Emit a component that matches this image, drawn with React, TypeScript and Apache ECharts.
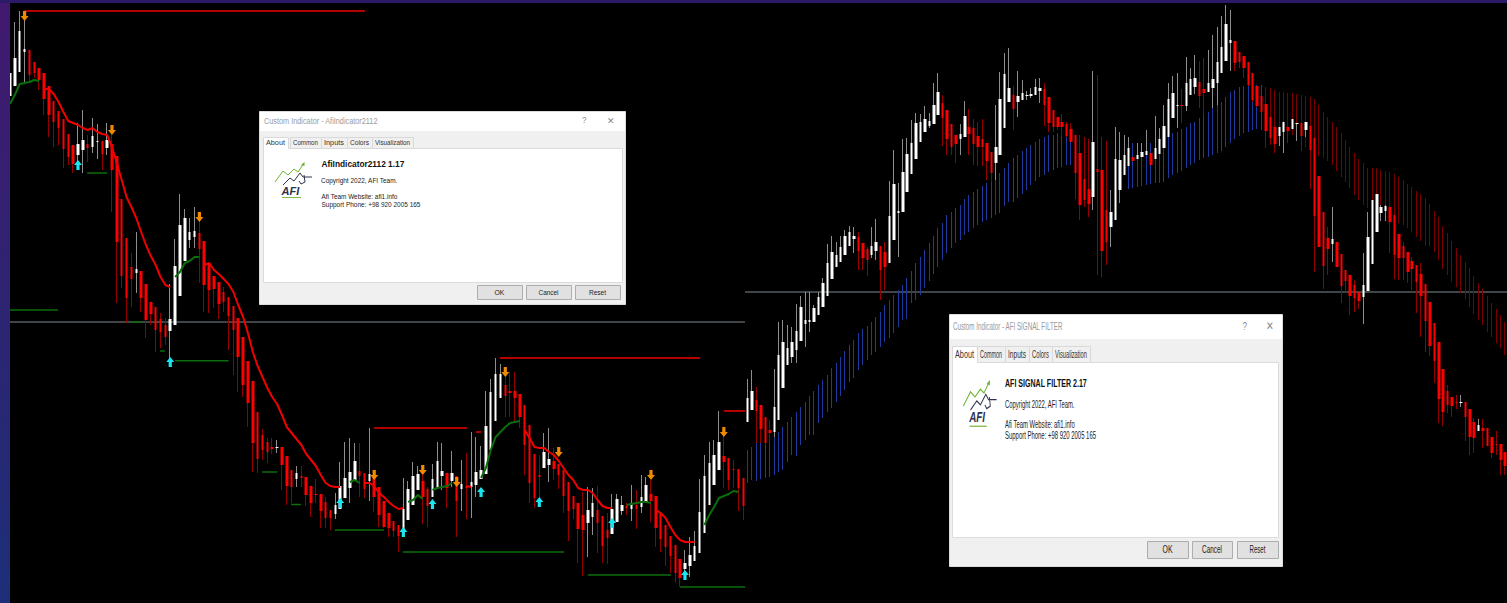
import React, { useEffect, useRef } from "react";
import * as echarts from "echarts";

// Each candle: [open, close, wick end, wick end] on an inverted price scale.
const leftCandles = [
  [96,73,73,96],[86,58,22,86],[72,31,11,72],[52,49,13,83],[50,75,50,82],[62,73,62,78],[68,80,68,90],[73,99,73,115],
  [86,115,86,137],[101,122,101,147],[111,128,111,145],[119,149,119,168],[134,157,134,165],[145,164,145,173],[155,144,123,163],[150,140,110,173],
  [144,148,135,162],[147,136,118,153],[142,141,124,159],[141,154,141,170],[148,140,123,155],[144,170,135,212],[156,242,156,303],[199,276,199,288],
  [238,298,238,323],[267,279,253,307],[273,269,232,293],[271,298,271,312],[284,320,284,338],[302,314,302,325],[307,330,307,352],[319,332,313,348],
  [325,337,318,345],[331,319,284,360],[325,266,239,325],[296,225,194,296],[261,218,209,261],[240,232,218,248],[237,231,207,248],[233,249,218,283],
  [241,285,241,312],[263,290,263,313],[276,289,276,308],[282,304,282,319],[292,302,287,312],[297,316,297,350],[306,330,306,375],[318,357,318,392],
  [337,385,337,397],[361,403,361,427],[381,443,381,472],[412,459,412,473],[435,450,429,460],[442,452,438,463],[447,449,438,454],[448,447,440,453],
  [447,465,447,490],[456,486,456,505],[470,487,470,503],[479,473,466,487],[476,478,466,487],[477,495,477,506],[486,503,486,517],[494,495,479,503],
  [494,511,494,528],[502,518,497,528],[510,518,510,530],[514,505,493,519],[509,486,462,509],[498,478,442,498],[488,472,438,503],[480,461,443,480],
  [471,476,443,497],[473,489,473,498],[481,474,428,501],[477,497,477,512],[487,515,487,527],[501,527,501,528],[513,528,513,537],[521,531,521,537],
  [525,536,525,552],[531,509,478,531],[520,489,481,520],[505,476,462,505],[490,474,466,490],[481,497,466,524],[489,506,487,527],[497,479,464,497],
  [488,461,442,488],[476,471,443,490],[473,488,473,508],[481,473,451,487],[476,501,476,537],[489,484,460,511],[486,488,453,519],[487,482,432,518],
  [485,472,437,497],[479,470,446,479],[474,426,391,474],[450,392,379,450],[421,374,358,421],[398,374,364,398],[385,396,375,417],[391,393,372,417],
  [391,398,372,422],[394,417,394,428],[405,445,405,475],[425,483,425,503],[454,498,454,508],[475,477,455,498],[468,452,433,468],[465,459,428,482],
  [461,469,448,480],[464,475,464,489],[470,496,470,513],[482,511,482,541],[496,509,496,519],[503,529,503,563],[515,530,492,576],[523,510,487,557],
  [517,503,488,535],[510,523,486,553],[516,546,516,563],[530,538,513,564],[534,509,494,534],[522,499,494,522],[511,505,496,515],[506,508,503,515],
  [509,503,485,521],[505,509,490,529],[507,497,475,513],[502,485,477,502],[494,501,480,522],[496,528,496,547],[512,539,512,552],[525,547,525,566],
  [536,556,536,573],[545,573,545,583],[559,578,559,587],[569,563,550,578],[566,555,537,577],[561,546,531,561],[553,512,479,553],[533,476,455,533],
  [505,463,442,505],[485,455,440,485],[470,442,411,470],[456,462,428,488],[458,480,458,490],[469,470,460,488],[469,488,469,511],[478,506,478,520],
];
const rightCandles = [
  [422,398,379,422],[410,391,370,410],[400,411,387,443],[405,429,405,443],[417,443,417,445],[430,433,420,443],[432,407,369,437],[420,355,322,420],
  [388,342,320,388],[365,348,325,365],[357,342,327,363],[350,331,304,363],[341,307,296,341],[324,320,292,347],[322,320,292,332],[322,308,305,322],
  [315,297,292,315],[307,283,278,307],[296,263,244,296],[279,252,236,279],[267,255,242,267],[262,247,236,262],[255,236,230,255],[246,232,226,246],
  [239,236,227,253],[237,251,232,270],[243,258,243,270],[249,260,247,276],[255,246,227,258],[251,242,219,260],[246,270,246,300],[252,267,242,290],
  [263,216,181,263],[240,184,150,240],[213,211,183,257],[212,172,139,212],[192,154,138,192],[174,143,120,174],[159,123,113,159],[142,122,114,142],
  [132,119,106,132],[126,121,113,128],[124,105,83,124],[115,92,73,115],[103,118,95,146],[110,139,110,155],[124,147,124,155],[135,144,135,163],
  [139,134,124,155],[137,116,101,137],[127,134,109,155],[128,144,119,165],[136,147,122,166],[139,147,119,166],[143,161,143,180],[152,173,152,182],
  [163,147,105,180],[155,99,72,155],[128,74,53,128],[102,88,48,102],[95,109,86,130],[102,96,71,117],[100,93,80,100],[96,95,91,100],
  [96,94,88,98],[95,87,79,95],[91,88,78,103],[89,105,83,126],[97,123,97,132],[110,127,110,132],[117,127,117,130],[122,127,114,137],
  [124,136,122,137],[129,142,123,142],[135,173,135,199],[153,205,135,220],[179,200,137,207],[189,204,139,217],[197,142,71,210],[169,172,75,275],
  [170,251,137,277],[210,242,141,265],[227,212,190,247],[220,159,127,220],[190,160,132,203],[175,155,135,175],[166,148,137,166],[157,161,157,161],
  [159,155,143,159],[157,152,143,157],[155,151,130,155],[153,165,153,165],[159,148,116,159],[154,139,128,154],[148,126,105,148],[137,99,83,137],
  [118,93,76,118],[106,105,73,128],[105,106,89,123],[106,83,57,111],[95,79,68,95],[87,78,55,94],[82,96,61,108],[89,93,58,115],
  [92,83,50,92],[88,79,35,108],[83,62,27,105],[73,47,16,73],[61,24,5,61],[43,40,10,71],[41,63,41,71],[52,62,52,68],
  [56,68,56,78],[62,85,62,86],[73,100,73,102],[86,106,86,107],[96,112,96,112],[104,131,104,148],[117,138,117,145],[127,144,127,153],
  [136,127,127,146],[132,122,122,153],[127,131,127,143],[129,119,119,129],[124,123,123,141],[123,136,123,151],[130,122,122,137],[126,150,126,189],
  [138,216,138,272],[176,247,176,247],[212,266,212,289],[238,249,227,275],[244,239,207,262],[242,267,242,267],[254,286,254,303],[270,281,270,292],
  [275,296,275,315],[285,298,280,312],[292,301,292,309],[297,285,253,324],[291,237,212,291],[264,200,200,264],[232,194,194,232],[213,207,205,221],
  [211,206,205,221],[207,222,207,253],[215,255,215,279],[234,258,234,280],[246,258,242,280],[252,272,252,283],[261,269,257,290],[265,282,265,313],
  [274,296,263,337],[284,321,284,352],[302,346,302,356],[323,361,323,383],[342,399,342,423],[369,412,369,426],[391,405,385,413],[397,406,397,417],
  [402,403,395,409],[403,402,395,407],[402,417,402,441],[409,437,409,455],[422,438,418,453],[431,425,419,431],[428,431,419,448],[428,446,428,446],
  [437,453,437,458],[444,445,431,455],[444,460,444,475],[452,466,452,475],
];
const filterBlue = [
  [450,483],[447,480],[443,481],[440,479],[438,478],[437,477],[433,475],[432,472],[427,470],[422,462],[417,455],[412,456],[407,445],[402,440],[396,435],
  [391,435],[385,423],[380,418],[375,412],[368,408],[363,402],[357,396],[351,390],[345,382],[340,378],[333,370],[329,365],[326,360],[322,355],[317,352],
  [312,347],[305,342],[300,338],[295,333],[290,327],[285,320],[278,319],[271,303],[263,300],[257,295],[250,288],[243,281],[236,274],[228,267],[223,260],
  [215,253],[212,248],[208,243],[205,240],[199,235],[195,232],[192,228],[189,225],[186,222],[183,220],[180,218],[177,215],[173,213],[168,206],[163,202],
  [158,202],[155,198],[151,194],[148,190],[145,185],[142,181],[139,177],[137,175],[135,172],[135,170],[133,168],[133,167],[132,165],[132,165],
  null,null,null,null,null,null,null,null,null,null,null,
  [157,175],[142,189],[143,188],[143,187],[143,186],[143,185],[143,184],[143,183],[138,183],[137,182],[136,178],[133,175],[132,173],[129,171],[127,168],
  [123,165],[122,163],[118,160],[115,158],[112,157],[108,155],[105,153],[102,151],[97,147],[92,143],[90,139],[87,136],[86,133],[86,132],[85,130],[85,129],[85,130],
];
const filterRedStart = 117;
const filterRed = [
  [87,130],[88,130],[90,132],[92,133],[92,137],[93,135],[93,135],[94,140],[95,143],[96,147],[97,150],[99,153],[105,156],[112,158],[117,161],
  [122,165],[127,171],[133,177],[140,182],[147,188],[153,195],[159,200],[163,205],[168,208],[168,212],[168,215],[170,217],[171,216],[172,218],[174,220],
  [177,223],[180,225],[184,228],[187,232],[191,237],[194,241],[198,246],[204,246],[211,252],[217,260],[226,269],[233,275],[241,282],[248,287],[255,293],
  [262,299],[268,307],[276,314],[283,320],[289,325],[296,332],[303,337],[309,343],[315,348],[322,355],
];
// Trailing stop: [first candle, values]
const trailRed: [number, number[]][] = [
  [7,[89,89,94,102,112,121,123,125,128,130,128,132,134,135,147,163,180,197,207,218,232,245,256,265,277,285,287]],
  [40,[265,263,270,274,279,284,292,305,317,333,352,366,377,388,397,404,415,427,433,439,445,454,460,466,475,483,486,487,487]],
  [73,[483,483,486,493,497,502,506,509,508]],
  [94,[486,487]],
  [106,[430,438,447,448,448,452,455,461,468,475,480,488,490,490,493,500,506,508,508]],
  [133,[510,513,518,527,535,540,542,542,542]],
];
const trailGreen: [number, number[]][] = [
  [0,[104,95,84,83,82,80,81]],
  [34,[277,272,263,261,257,257]],
  [70,[482,480,483]],
  [82,[502,500,495,499]],
  [87,[490,488,487,486,483]],
  [97,[478,468,450,437,432,427,423,422,421]],
  [127,[505,504,503,502,502,503]],
  [143,[525,515,507,498,496,494,491,492]],
];
// Levels: [from candle, to candle, price]
const levelsRed = [[3,73.1,11],[100.9,142.1,358],[75,94.1,428],[96,97,432],[147,151.4,411]];
const levelsGreen = [[0,9.9,310],[15.9,20,173],[24.9,27,322],[30.9,31.9,351],[34,45,360.7],[51.9,55,472],[57.9,59.9,504.5],[66.9,77,530],[80.9,114.1,552],[119,136.1,575],[138,151.4,587]];
const priceLineLeft = 322;
const priceLineRight = 292;
const sellSignals = [[3,16],[21,130],[39,217],[75,475],[85,470],[92,482],[102,372],[113,452],[132,475],[147,432]];
const buySignals = [[14,165],[33,362],[68,503],[81,532],[87,504],[97,492],[109,502],[124,523],[139,575]];

const ARROW_DOWN = "path://M3 0L7 0L7 5L10 5L5 10L0 5L3 5Z";
const ARROW_UP = "path://M5 0L10 5L7 5L7 10L3 10L3 5L0 5Z";
const FONT = "Liberation Sans";

const widthOf = (t: string, size: number, bold?: boolean) => {
  const c = document.createElement("canvas").getContext("2d")!;
  c.font = `${bold ? "bold " : ""}${size}px "${FONT}"`;
  return c.measureText(t).width;
};
const label = (t: string, x: number, y: number, w: number, size: number, color = "#1a1a1a", bold = false, scaleY = 1, z = 21) => ({
  type: "text", x, y, z, scaleX: w / widthOf(t, size, bold), scaleY, silent: true,
  style: { text: t, fontFamily: FONT, fontSize: size, fontWeight: bold ? "bold" : "normal", fill: color, verticalAlign: "middle", align: "left" },
});
const box = (x: number, y: number, w: number, h: number, fill: string, stroke?: string, z = 20) => ({
  type: "rect", z, silent: true, shape: { x: x + (stroke ? 0.5 : 0), y: y + (stroke ? 0.5 : 0), width: w, height: h },
  style: { fill, stroke: stroke || "none", lineWidth: stroke ? 1 : 0 },
});
const logo = (x: number, y: number, scaleX: number, scaleY: number) => ({
  type: "group", x, y, scaleX, scaleY, silent: true,
  children: [
    { type: "polyline", z: 22, shape: { points: [[20,77],[28,66],[33,70],[39,64],[43,67],[49,58]] }, style: { fill: "none", stroke: "#6bb52d", lineWidth: 1 } },
    { type: "polygon", z: 22, shape: { points: [[46,60],[49.5,57],[49.5,61]] }, style: { fill: "#6bb52d" } },
    { type: "polyline", z: 22, shape: { points: [[28,80],[35,73],[39,76],[45,68],[48,72],[57,72]] }, style: { fill: "none", stroke: "#30354f", lineWidth: 1 } },
    { type: "polyline", z: 22, shape: { points: [[49,70],[50,77],[46,79],[44,76]] }, style: { fill: "none", stroke: "#30354f", lineWidth: 1 } },
    { type: "text", z: 22, x: 26.5, y: 86, scaleX: 1, style: { text: "AFI", fontFamily: FONT, fontSize: 11, fontWeight: "bold", fontStyle: "italic", fill: "#2c3350", verticalAlign: "middle" } },
    { type: "line", z: 22, shape: { x1: 27, y1: 92.5, x2: 46, y2: 92.5 }, style: { stroke: "#7dbb45", lineWidth: 1 } },
  ],
});
const tabs = (items: [string, number, number][], y: number, h: number, textY: number, size: number, scaleY: number) =>
  items.flatMap(([t, x, w], i) => [
    box(x, y, w, h, i === 0 ? "#ffffff" : "#f0f0f0", "#d9d9d9"),
    label(t, x + 3, textY, w - 6, size, "#333", false, scaleY),
  ]);
const button = (t: string, x: number, y: number, w: number, h: number, tw: number, size: number, scaleY: number) => [
  box(x, y, w, h, "#e1e1e1", "#adadad"),
  label(t, x + (w - tw) / 2, y + h / 2, tw, size, "#222", false, scaleY),
];

const graphics = [
  { type: "rect", z: 15, silent: true, shape: { x: 0, y: 0, width: 10, height: 603 },
    style: { fill: new echarts.graphic.LinearGradient(0, 0, 0, 1, [{ offset: 0, color: "#42196f" }, { offset: 0.5, color: "#2e2472" }, { offset: 1, color: "#1d2f78" }]) } },
  box(0, 0, 1507, 3, "#2a1a68", undefined, 15),
  // Left dialog
  box(259, 111, 366, 193, "#f0f0f0", "#dcdcdc"),
  box(260, 112, 365, 19, "#ffffff"),
  label("Custom Indicator - AfiIndicator2112", 264, 121, 114, 9, "#9a9a9a"),
  label("?", 582, 120, 4.5, 9, "#888"),
  label("✕", 607, 120.5, 8, 9, "#888"),
  box(263, 148, 359, 134, "#ffffff", "#dcdcdc"),
  ...tabs([["About",263,25],["Common",290,31],["Inputs",321,26],["Colors",347,25],["Visualization",372,41]], 137, 11, 142.5, 8, 1),
  box(264, 147, 24, 3, "#ffffff"),
  label("AfiIndicator2112 1.17", 321.5, 164, 83, 9, "#111", true),
  label("Copyright 2022, AFI Team.", 321, 180, 77, 8, "#222"),
  label("Afi Team Website: afi1.info", 321.5, 196, 76, 8, "#222"),
  label("Support Phone: +98 920 2005 165", 321.5, 204, 99, 8, "#222"),
  logo(255, 105, 1, 1),
  ...button("OK", 477, 285, 45, 14, 10, 8, 1),
  ...button("Cancel", 526, 285, 45, 14, 20, 8, 1),
  ...button("Reset", 575, 285, 45, 14, 17, 8, 1),
  // Right dialog
  box(949, 314, 333, 252, "#f0f0f0", "#dcdcdc"),
  box(950, 315, 332, 24, "#ffffff"),
  label("Custom Indicator - AFI SIGNAL FILTER", 953, 326.5, 110, 9, "#9a9a9a", false, 1.3),
  label("?", 1242.5, 326, 4.5, 9, "#888", false, 1.3),
  label("✕", 1266, 326, 8, 9, "#888", false, 1.3),
  box(952, 362, 326, 175, "#ffffff", "#dcdcdc"),
  ...tabs([["About",952,25],["Common",977,28],["Inputs",1005,24],["Colors",1029,23],["Visualization",1052,38]], 346, 16, 354.5, 8, 1.3),
  box(953, 361, 24, 3, "#ffffff"),
  label("AFI SIGNAL FILTER 2.17", 1005, 383, 82, 9, "#111", true, 1.3),
  label("Copyright 2022, AFI Team.", 1005, 404, 70, 8, "#222", false, 1.3),
  label("Afi Team Website: afi1.info", 1005, 424, 70, 8, "#222", false, 1.3),
  label("Support Phone: +98 920 2005 165", 1005, 435, 91, 8, "#222", false, 1.3),
  logo(945.3, 306, 0.9, 1.3),
  ...button("OK", 1147, 541, 41, 17, 10, 8, 1.3),
  ...button("Cancel", 1192, 541, 40, 17, 20, 8, 1.3),
  ...button("Reset", 1237, 541, 41, 17, 16, 8, 1.3),
];

const wickSeries = (rows: number[][], up: boolean, idx: number, color: string) => ({
  type: "candlestick", xAxisIndex: idx, yAxisIndex: idx, barWidth: 1, silent: true, z: 3,
  encode: { x: 0, y: [1, 2, 3, 4] },
  itemStyle: { color, color0: color, borderColor: color, borderColor0: color, borderWidth: 1 },
  data: rows.map((r, i) => [i, ...r] as number[]).filter((r) => (r[1] > r[2]) === up).map((r) => [r[0], r[3], r[3], r[3], r[4]]),
});
const bodySeries = (rows: number[][], idx: number) => ({
  type: "candlestick", xAxisIndex: idx, yAxisIndex: idx, barWidth: 3, silent: true, z: 4,
  encode: { x: 0, y: [1, 2, 3, 4] },
  itemStyle: { color: "#ff0000", color0: "#ffffff", borderColor: "#ff0000", borderColor0: "#ffffff", borderWidth: 0 },
  data: rows.map((r, i) => [i, r[0], r[1], Math.min(r[0], r[1]), Math.max(r[0], r[1])]),
});
const joinSegments = (segs: [number, number[]][]) =>
  segs.flatMap(([s, v]) => [...v.map((y, k) => [s + k, y]), [s + v.length, null]]);
const joinLevels = (ls: number[][]) => ls.flatMap(([a, b, y]) => [[a, y], [b, y], [b, null]]);
const lineSeries = (data: any[], color: string, width: number, idx = 0, z = 5) => ({
  type: "line", xAxisIndex: idx, yAxisIndex: idx, data, symbol: "none", silent: true, z, connectNulls: false,
  lineStyle: { color, width },
});
const filterSeries = (rows: ([number, number] | null)[], start: number, color: string) => ({
  type: "candlestick", xAxisIndex: 1, yAxisIndex: 1, barWidth: 1, silent: true, z: 2,
  encode: { x: 0, y: [1, 2, 3, 4] },
  itemStyle: { color, color0: color, borderColor: color, borderColor0: color, borderWidth: 1 },
  data: rows.map((r, i) => (r ? [start + i, r[0], r[0], r[0], r[1]] : null)).filter(Boolean),
});
const arrows = (data: number[][], symbol: string, color: string) => ({
  type: "scatter", xAxisIndex: 0, yAxisIndex: 0, data, symbol, symbolSize: [8, 10], silent: true, z: 6,
  itemStyle: { color, opacity: 1 },
});
const axisBase = { show: false, type: "value" as const, scale: false, splitLine: { show: false } };

export default function App() {
  const ref = useRef<HTMLDivElement>(null);
  useEffect(() => {
    document.body.style.margin = "0";
    document.body.style.background = "#000";
    const chart = echarts.init(ref.current!, undefined, { renderer: "svg" });
    chart.setOption({
      animation: false,
      backgroundColor: "#000000",
      tooltip: { show: false },
      grid: [
        { left: 10, top: 0, width: 735, height: 603 },
        { left: 745, top: 0, width: 762, height: 603 },
      ],
      xAxis: [
        { ...axisBase, gridIndex: 0, min: 0, max: 151.36 },
        { ...axisBase, gridIndex: 1, min: -0.61, max: 171.4 },
      ],
      yAxis: [
        { ...axisBase, gridIndex: 0, min: 0, max: 603, inverse: true },
        { ...axisBase, gridIndex: 1, min: 0, max: 603, inverse: true },
      ],
      graphic: graphics,
      series: [
        lineSeries([[0, priceLineLeft], [151.36, priceLineLeft]], "#7f8a8f", 1, 0, 2),
        lineSeries([[-0.61, priceLineRight], [171.4, priceLineRight]], "#7f8a8f", 1, 1, 2),
        filterSeries(filterBlue as any, 0, "#1d3a9e"),
        filterSeries(filterRed as any, filterRedStart, "#7a0000"),
        wickSeries(leftCandles, false, 0, "#920000"),
        wickSeries(leftCandles, true, 0, "#8e8e8e"),
        bodySeries(leftCandles, 0),
        wickSeries(rightCandles, false, 1, "#920000"),
        wickSeries(rightCandles, true, 1, "#8e8e8e"),
        bodySeries(rightCandles, 1),
        lineSeries(joinSegments(trailRed), "#f00000", 2),
        lineSeries(joinSegments(trailGreen), "#0b6e0b", 2),
        lineSeries(joinLevels(levelsRed), "#ee0000", 1.5),
        lineSeries(joinLevels(levelsGreen), "#0b6e0b", 1.5),
        arrows(sellSignals, ARROW_DOWN, "#f08a00"),
        arrows(buySignals, ARROW_UP, "#19e6f0"),
      ],
    });
    return () => chart.dispose();
  }, []);
  return <div ref={ref} style={{ width: 1507, height: 603 }} />;
}
